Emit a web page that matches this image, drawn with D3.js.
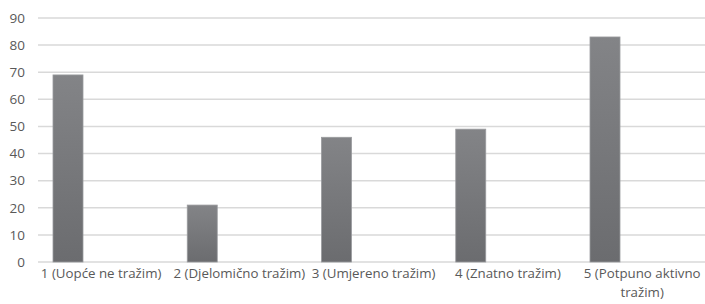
<!DOCTYPE html>
<html><head><meta charset="utf-8">
<script src="https://cdn.jsdelivr.net/npm/d3@7"></script>
<style>body{margin:0;background:#fff}svg{display:block}</style>
</head><body>
<svg id="c" width="705" height="304"></svg>
<script>
const categories = ["1 (Uopće ne tražim)", "2 (Djelomično tražim)", "3 (Umjereno tražim)", "4 (Znatno tražim)", "5 (Potpuno aktivno tražim)"];
const values = [69, 21, 46, 49, 83];
const yTicks = [0, 10, 20, 30, 40, 50, 60, 70, 80, 90];

(function(){
const svg = d3.select("#c");
const pLeft = 38, pTop = 18, pBottom = 262, step = 134.25;
const x = d3.scaleBand().domain(categories).range([pLeft, pLeft + step * categories.length]).padding(0);
const y = d3.scaleLinear().domain([0, 90]).range([pBottom, pTop]);

const defs = svg.append("defs");
const g = defs.append("linearGradient").attr("id", "bg").attr("x1", 0).attr("x2", 0).attr("y1", 0).attr("y2", 1);
g.append("stop").attr("offset", "0%").attr("stop-color", "#838487");
g.append("stop").attr("offset", "100%").attr("stop-color", "#6b6c6f");

const font = "'Open Sans', sans-serif";

svg.append("g").selectAll("line").data(yTicks).join("line")
  .attr("x1", pLeft).attr("x2", 705)
  .attr("y1", d => y(d)).attr("y2", d => y(d))
  .attr("stroke", "#d9d9d9").attr("stroke-width", 1.5);

svg.append("g").selectAll("text").data(yTicks).join("text")
  .attr("x", 25).attr("y", d => y(d)).attr("dy", "0.35em")
  .attr("text-anchor", "end").attr("fill", "#595959")
  .style("font-family", font).style("font-size", "13.5px").text(d => d);

const barW = 30, barOff = 15;
svg.append("g").selectAll("rect").data(values).join("rect")
  .attr("x", (d, i) => x(categories[i]) + barOff)
  .attr("y", d => y(d))
  .attr("width", barW)
  .attr("height", d => y(0) - y(d))
  .attr("fill", "url(#bg)").attr("stroke", "#9a9b9e").attr("stroke-width", 0.8);

const xl = svg.append("g");
categories.forEach((c, i) => {
  const cx = x(c) + x.bandwidth() / 2 - (i === 0 ? 4 : 0);
  const lines = i === 4 ? ["5 (Potpuno aktivno", "tražim)"] : [c];
  lines.forEach((t, j) => {
    xl.append("text").attr("x", cx).attr("y", 278 + j * 18.5)
      .attr("text-anchor", "middle").attr("fill", "#595959")
      .style("font-family", font).style("font-size", "13.3px").text(t);
  });
});
})();
</script>
</body></html>
